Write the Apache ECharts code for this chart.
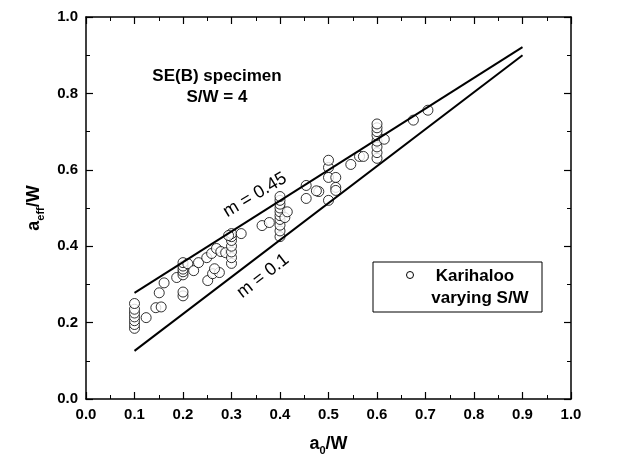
<!DOCTYPE html>
<html>
<head>
<meta charset="utf-8">
<script src="https://cdn.jsdelivr.net/npm/echarts@6/dist/echarts.min.js"></script>
<style>
  html, body { margin: 0; padding: 0; background: #fff; }
  #chart { width: 617px; height: 466px; }
</style>
</head>
<body>
<div id="chart"></div>
<script>
// Karihaloo data, a0/W vs aeff/W
let karihalooA0 = [
    0.1, 0.1, 0.1, 0.1, 0.1, 0.1, 0.1,
    0.124, 0.144, 0.155, 0.151, 0.161, 0.187,
    0.2, 0.2, 0.2, 0.2, 0.2, 0.2, 0.2,
    0.21, 0.222, 0.232, 0.249, 0.259, 0.269, 0.278, 0.288,
    0.251, 0.261, 0.275, 0.265,
    0.3, 0.3, 0.3, 0.3, 0.3, 0.3, 0.3,
    0.294, 0.32, 0.363, 0.378,
    0.4, 0.4, 0.4, 0.4, 0.4, 0.4, 0.4, 0.4, 0.4, 0.4,
    0.41, 0.415, 0.454, 0.454, 0.48, 0.475,
    0.5, 0.5, 0.5, 0.5, 0.515, 0.515, 0.515,
    0.546, 0.564, 0.572,
    0.6, 0.6, 0.6, 0.6, 0.6, 0.6, 0.6, 0.6,
    0.615, 0.675, 0.705
];
let karihalooAeff = [
    0.185, 0.195, 0.205, 0.215, 0.225, 0.235, 0.25,
    0.213, 0.239, 0.241, 0.278, 0.304, 0.318,
    0.325, 0.333, 0.34, 0.348, 0.357, 0.27, 0.28,
    0.354, 0.336, 0.357, 0.37, 0.381, 0.394, 0.386, 0.383,
    0.31, 0.328, 0.331, 0.341,
    0.355, 0.37, 0.385, 0.4, 0.415, 0.425, 0.433,
    0.428, 0.433, 0.454, 0.462,
    0.425, 0.44, 0.455, 0.47, 0.48, 0.49, 0.5, 0.51, 0.52, 0.53,
    0.475, 0.49, 0.559, 0.525, 0.543, 0.545,
    0.52, 0.58, 0.606, 0.625, 0.58, 0.554, 0.546,
    0.614, 0.635, 0.635,
    0.63, 0.645, 0.66, 0.675, 0.69, 0.70, 0.71, 0.72,
    0.68, 0.73, 0.756
];

// model lines
let lineA0 = [0.1, 0.9];
let lineM045 = [0.278, 0.921];
let lineM01 = [0.126, 0.900];

let xTicks = [0.0, 0.1, 0.2, 0.3, 0.4, 0.5, 0.6, 0.7, 0.8, 0.9, 1.0];
let yTicks = [0.0, 0.2, 0.4, 0.6, 0.8, 1.0];

const FONT = 'Liberation Sans, Arial, sans-serif';

function pairs(xs, ys) {
    return xs.map((x, i) => [x, ys[i]]);
}

let axisLine = { show: true, onZero: false, lineStyle: { color: '#000', width: 1.5 } };
let tick = { show: true, inside: true, length: 7, lineStyle: { color: '#000', width: 1.2 } };
let minor = { show: true, splitNumber: 2, length: 4, lineStyle: { color: '#000', width: 1 } };
let labelStyle = { color: '#000', fontFamily: FONT, fontWeight: 'bold', fontSize: 15 };
let nameStyle = {
    color: '#000', fontFamily: FONT, fontWeight: 'bold', fontSize: 18,
    rich: { sub: { fontFamily: FONT, fontWeight: 'bold', fontSize: 11, padding: [13, 0, 0, 0] } }
};

let xBase = {
    type: 'value', min: xTicks[0], max: xTicks[xTicks.length - 1], interval: 0.1,
    axisLine: axisLine, axisTick: tick, minorTick: minor,
    splitLine: { show: false }
};
let yBase = {
    type: 'value', min: yTicks[0], max: yTicks[yTicks.length - 1], interval: 0.2,
    axisLine: axisLine, axisTick: tick, minorTick: minor,
    splitLine: { show: false }
};

let chart = echarts.init(document.getElementById('chart'), null, { renderer: 'canvas' });

let option = {
    animation: false,
    backgroundColor: '#fff',
    grid: { left: 86, right: 46, top: 17, bottom: 67 },
    xAxis: [
        Object.assign({}, xBase, {
            position: 'bottom',
            axisLabel: Object.assign({ margin: 8, formatter: v => v.toFixed(1) }, labelStyle),
            name: 'a{sub|0}/W',
            nameLocation: 'middle',
            nameGap: 33,
            nameTextStyle: nameStyle
        }),
        Object.assign({}, xBase, { position: 'top', axisLabel: { show: false } })
    ],
    yAxis: [
        Object.assign({}, yBase, {
            position: 'left',
            axisLabel: Object.assign({ margin: 8, formatter: v => v.toFixed(1) }, labelStyle),
            name: 'a{sub|eff}/W',
            nameLocation: 'middle',
            nameGap: 34,
            nameTextStyle: nameStyle
        }),
        Object.assign({}, yBase, { position: 'right', axisLabel: { show: false } })
    ],
    series: [
        {
            name: 'm = 0.45',
            type: 'line',
            data: pairs(lineA0, lineM045),
            showSymbol: false,
            lineStyle: { color: '#000', width: 2 }
        },
        {
            name: 'm = 0.1',
            type: 'line',
            data: pairs(lineA0, lineM01),
            showSymbol: false,
            lineStyle: { color: '#000', width: 2 }
        },
        {
            name: 'Karihaloo varying S/W',
            type: 'scatter',
            data: pairs(karihalooA0, karihalooAeff),
            symbol: 'circle',
            symbolSize: 10,
            itemStyle: { color: '#fff', borderColor: '#000', borderWidth: 1 }
        }
    ],
    graphic: [
        {
            type: 'text', x: 217, y: 76,
            style: { text: 'SE(B) specimen', font: 'bold 17px ' + FONT, fill: '#000', align: 'center', verticalAlign: 'middle' }
        },
        {
            type: 'text', x: 217, y: 97,
            style: { text: 'S/W = 4', font: 'bold 17px ' + FONT, fill: '#000', align: 'center', verticalAlign: 'middle' }
        },
        {
            type: 'text', x: 255, y: 195, rotation: 31 * Math.PI / 180,
            style: { text: 'm = 0.45', font: '18px ' + FONT, fill: '#000', align: 'center', verticalAlign: 'middle' }
        },
        {
            type: 'text', x: 263, y: 276, rotation: 38 * Math.PI / 180,
            style: { text: 'm = 0.1', font: '18px ' + FONT, fill: '#000', align: 'center', verticalAlign: 'middle' }
        },
        {
            type: 'rect',
            shape: { x: 373, y: 262, width: 169, height: 50 },
            style: { fill: '#fff', stroke: '#000', lineWidth: 1 }
        },
        {
            type: 'circle',
            shape: { cx: 410, cy: 275, r: 3.5 },
            style: { fill: '#fff', stroke: '#000', lineWidth: 1 }
        },
        {
            type: 'text', x: 475, y: 276,
            style: { text: 'Karihaloo', font: 'bold 17px ' + FONT, fill: '#000', align: 'center', verticalAlign: 'middle' }
        },
        {
            type: 'text', x: 480, y: 298,
            style: { text: 'varying S/W', font: 'bold 17px ' + FONT, fill: '#000', align: 'center', verticalAlign: 'middle' }
        }
    ]
};

chart.setOption(option);
</script>
</body>
</html>
